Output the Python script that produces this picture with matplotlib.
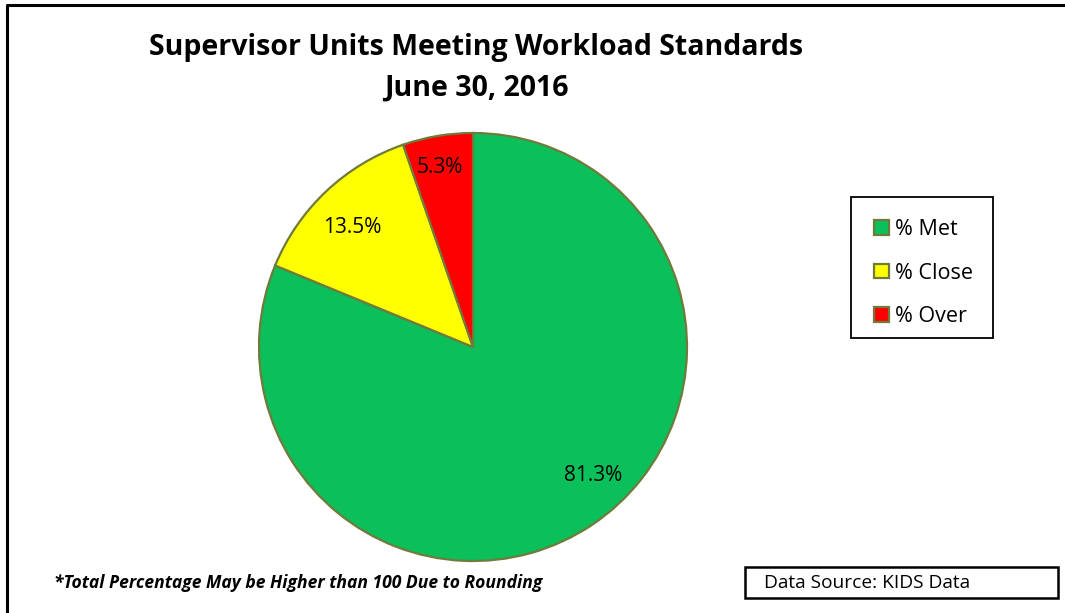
import matplotlib.pyplot as plt
from matplotlib.patches import Rectangle
from matplotlib.lines import Line2D

plt.rcParams['font.family'] = ['Open Sans', 'DejaVu Sans']

# data
categories = ['% Met', '% Close', '% Over']
values = [81.3, 13.5, 5.3]
colors = ['#0BBF5A', '#FFFF00', '#FF0000']
title = 'Supervisor Units Meeting Workload Standards\nJune 30, 2016'
footnote = '*Total Percentage May be Higher than 100 Due to Rounding'
source = 'Data Source: KIDS Data'

# label spots (in pie-radius units)
label_pos = [(0.56, -0.60), (-0.565, 0.56), (-0.155, 0.84)]

W, H = 1065, 613
fig = plt.figure(figsize=(W / 100, H / 100), dpi=100)

# outer frame (cropped on right and bottom)
fig.add_artist(Line2D([7 / W, 7 / W, 1.0], [0.0, 1 - 5 / H, 1 - 5 / H],
                      color='black', lw=2.2, transform=fig.transFigure))

# pie axes: center ~ (473, 347) px, radius ~ 214 px
cx, cy, r = 473, 347, 214
ax = fig.add_axes([(cx - r) / W, (H - cy - r) / H, 2 * r / W, 2 * r / H])

wedges, _ = ax.pie(
    values, colors=colors, startangle=90, counterclock=False, radius=1,
    wedgeprops=dict(edgecolor='#6E7B3A', linewidth=1.6))
for v, (x, y) in zip(values, label_pos):
    ax.text(x, y, f'{v:.1f}%', ha='center', va='center', fontsize=15)
ax.set_xlim(-1, 1)
ax.set_ylim(-1, 1)
ax.axis('off')

fig.text(476 / W, 1 - 68 / H, title, ha='center', va='center',
         fontsize=20.5, fontweight='bold', linespacing=1.52)

# legend: box drawn by hand, entries placed inside it
fig.add_artist(Rectangle((851 / W, 1 - 338 / H), 142 / W, 141 / H,
                         transform=fig.transFigure, fill=False,
                         edgecolor='black', lw=1.3))
leg = fig.legend(wedges, categories, loc='upper left',
                 bbox_to_anchor=(874 / W, 1 - 219 / H),
                 frameon=False, fontsize=15.5,
                 handlelength=0.68, handleheight=0.68, handletextpad=0.3,
                 labelspacing=1.05, borderpad=0, borderaxespad=0)
for h in leg.legend_handles:
    h.set_edgecolor('#6E7B3A')
    h.set_linewidth(1.6)

fig.text(54 / W, 1 - 583 / H, footnote, ha='left', va='center',
         fontsize=12.6, fontweight='bold', fontstyle='italic')

# data source box
fig.add_artist(Rectangle((745 / W, 1 - 598 / H), 313 / W, 31 / H,
                         transform=fig.transFigure, fill=False,
                         edgecolor='black', lw=1.8))
fig.text(764 / W, 1 - 583 / H, source, ha='left', va='center', fontsize=13.8)

fig.savefig('out.png', dpi=100)
